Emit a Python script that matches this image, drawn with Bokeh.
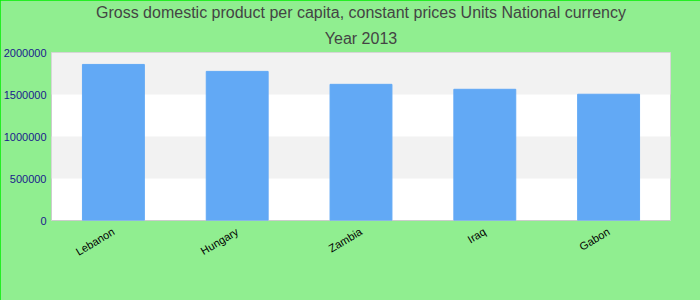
from bokeh.plotting import figure
from bokeh.models import Title, FixedTicker
from bokeh.embed import file_html
from bokeh.resources import INLINE

countries = ["Lebanon", "Hungary", "Zambia", "Iraq", "Gabon"]
gdp = [1858000, 1775000, 1621000, 1562000, 1503000]
y_ticks = [0, 500000, 1000000, 1500000, 2000000]
y_tick_labels = ["0", "500000", "1000000", "1500000", "2000000"]

p = figure(x_range=countries, y_range=(0, 2000000), width=700, height=300,
           output_backend="svg", toolbar_location=None,
           min_border_left=40, min_border_right=30, min_border_bottom=80, min_border_top=0)
p.styles = {"outline": "1px solid #00ee00", "outline-offset": "-1px"}
p.background_fill_color = "white"
p.border_fill_color = "#90EE90"
p.outline_line_color = "#cccccc"

p.vbar(x=countries, top=gdp, width=0.5, color="#62a9f5")

ay = p.yaxis[0]
ay.ticker = FixedTicker(ticks=y_ticks)
ay.major_label_overrides = {t: s for t, s in zip(y_ticks, y_tick_labels)}
ay.axis_line_color = None
ay.major_tick_line_color = None
ay.minor_tick_line_color = None
ay.major_tick_out = 0
ay.major_label_standoff = 5
ay.major_label_text_font = "Liberation Sans"
ay.major_label_text_font_size = "11px"
ay.major_label_text_color = "#1a1a8c"

p.ygrid.ticker = FixedTicker(ticks=y_ticks)
p.ygrid.grid_line_color = None
p.ygrid.band_fill_color = "#f2f2f2"
p.ygrid.band_fill_alpha = 1.0
p.xgrid.grid_line_color = None

ax = p.xaxis[0]
ax.axis_line_color = None
ax.major_tick_line_color = None
ax.minor_tick_line_color = None
ax.major_tick_out = 0
ax.major_label_orientation = 0.54
ax.major_label_text_font = "Liberation Sans"
ax.major_label_text_font_size = "11px"
ax.major_label_text_color = "black"
ax.major_label_standoff = 10

p.add_layout(Title(text="Year 2013", align="center", text_font="Liberation Sans",
                   text_font_size="16px", text_font_style="normal", text_color="#444444",
                   standoff=12), "above")
p.add_layout(Title(text="Gross domestic product per capita, constant prices Units National currency",
                   align="center", text_font="Liberation Sans",
                   text_font_size="16px", text_font_style="normal", text_color="#444444",
                   standoff=2), "above")

open("out.html", "w").write(file_html(p, INLINE))
